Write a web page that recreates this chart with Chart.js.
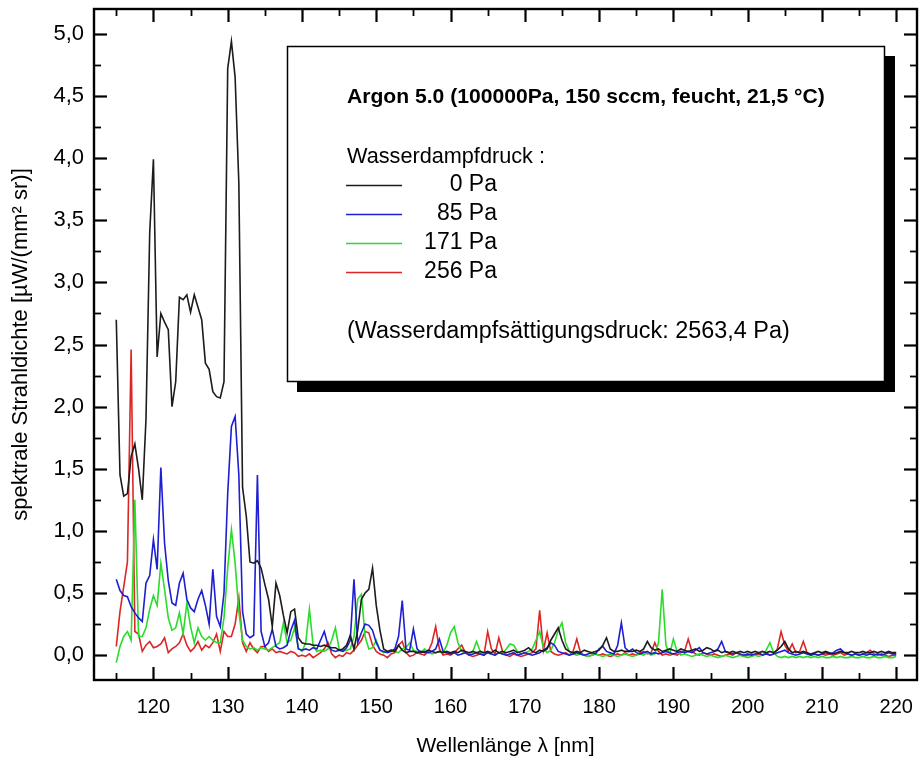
<!DOCTYPE html>
<html><head><meta charset="utf-8">
<script src="https://cdn.jsdelivr.net/npm/chart.js@4.4.1/dist/chart.umd.min.js"></script>
<style>html,body{margin:0;padding:0;background:#fff}#wrap{width:922px;height:767px}</style>
</head><body><div id="wrap"><canvas id="c" width="922" height="767"></canvas></div>
<script>
// wavelength grid: 115.0 nm to 220.0 nm in 0.5 nm steps
const WL_START = 115, WL_STEP = 0.5;

const black0Pa = [
 2.70,1.45,1.28,1.30,1.60,1.70,1.50,1.25,1.90,3.40,
 3.99,2.40,2.75,2.68,2.62,2.00,2.20,2.88,2.86,2.90,
 2.76,2.90,2.80,2.70,2.35,2.30,2.12,2.08,2.07,2.20,
 4.72,4.94,4.65,3.80,1.35,1.12,0.75,0.74,0.76,0.70,
 0.57,0.45,0.23,0.58,0.48,0.32,0.18,0.35,0.37,0.14,
 0.10,0.09,0.09,0.08,0.08,0.07,0.08,0.07,0.06,0.06,
 0.04,0.05,0.08,0.16,0.05,0.20,0.45,0.50,0.53,0.70,
 0.40,0.20,0.05,0.03,0.04,0.03,0.08,0.04,0.02,0.03,
 0.03,0.02,0.03,0.02,0.04,0.03,0.02,0.03,0.02,0.03,
 0.02,0.03,0.02,0.04,0.03,0.02,0.03,0.02,0.03,0.02,
 0.03,0.02,0.04,0.02,0.03,0.02,0.03,0.04,0.02,0.03,
 0.04,0.06,0.03,0.02,0.04,0.03,0.05,0.12,0.17,0.22,
 0.12,0.05,0.03,0.02,0.03,0.02,0.04,0.03,0.02,0.03,
 0.04,0.08,0.14,0.05,0.03,0.03,0.04,0.03,0.03,0.03,
 0.04,0.03,0.05,0.11,0.06,0.04,0.05,0.03,0.04,0.05,
 0.04,0.03,0.05,0.04,0.03,0.04,0.05,0.03,0.04,0.06,
 0.05,0.03,0.04,0.02,0.03,0.02,0.03,0.02,0.03,0.02,
 0.03,0.02,0.03,0.02,0.03,0.02,0.03,0.02,0.04,0.07,
 0.11,0.05,0.02,0.03,0.02,0.03,0.02,0.01,0.02,0.03,
 0.02,0.03,0.02,0.01,0.02,0.03,0.02,0.02,0.03,0.02,
 0.02,0.03,0.02,0.02,0.03,0.02,0.03,0.02,0.03,0.02,
 0.02
];

const blue85Pa = [
 0.61,0.52,0.48,0.47,0.39,0.34,0.30,0.27,0.58,0.64,
 0.93,0.69,1.51,0.90,0.60,0.42,0.40,0.58,0.66,0.45,
 0.38,0.35,0.45,0.52,0.40,0.25,0.69,0.31,0.23,0.50,
 1.30,1.84,1.92,1.45,0.35,0.17,0.14,0.16,1.45,0.19,
 0.07,0.10,0.21,0.07,0.05,0.06,0.08,0.20,0.28,0.05,
 0.04,0.05,0.04,0.06,0.05,0.12,0.19,0.08,0.04,0.03,
 0.04,0.03,0.06,0.12,0.61,0.10,0.18,0.25,0.24,0.20,
 0.10,0.04,0.03,0.02,0.03,0.05,0.15,0.44,0.05,0.04,
 0.21,0.05,0.02,0.03,0.02,0.03,0.05,0.13,0.03,0.02,
 0.01,0.02,0.00,0.01,0.02,0.00,0.01,0.02,0.01,0.00,
 0.02,0.01,0.00,0.02,0.01,0.00,0.01,0.02,0.00,0.01,
 0.02,0.01,0.00,0.01,0.02,0.04,0.06,0.10,0.08,0.03,
 0.02,0.01,0.00,0.01,0.02,0.01,0.00,0.01,0.02,0.01,
 0.05,0.07,0.03,0.02,0.01,0.08,0.26,0.06,0.03,0.05,
 0.02,0.01,0.02,0.03,0.01,0.02,0.01,0.02,0.03,0.02,
 0.01,0.02,0.03,0.02,0.03,0.02,0.04,0.06,0.02,0.01,
 0.02,0.03,0.05,0.11,0.03,0.02,0.01,0.02,0.01,0.00,
 0.01,0.00,0.01,0.02,0.00,0.01,0.00,0.01,0.02,0.03,
 0.04,0.02,0.01,0.00,0.01,0.02,0.01,0.00,0.01,0.00,
 0.01,0.02,0.01,0.02,0.04,0.05,0.02,0.01,0.00,0.01,
 0.00,0.01,0.00,0.01,0.00,0.01,0.00,0.01,0.02,0.01,
 0.01
];

const green171Pa = [
 -0.06,0.07,0.15,0.19,0.12,1.25,0.15,0.15,0.22,0.37,
 0.48,0.40,0.74,0.53,0.30,0.20,0.22,0.34,0.17,0.42,
 0.23,0.10,0.22,0.15,0.12,0.15,0.12,0.10,0.10,0.30,
 0.70,1.01,0.74,0.35,0.12,0.07,0.05,0.06,0.04,0.06,
 0.05,0.04,0.06,0.08,0.10,0.26,0.10,0.12,0.22,0.06,
 0.03,0.10,0.37,0.08,0.03,0.04,0.03,0.05,0.12,0.22,
 0.05,0.03,0.04,0.05,0.15,0.45,0.49,0.15,0.05,0.06,
 0.12,0.04,0.02,0.03,0.04,0.03,0.02,0.05,0.06,0.10,
 0.04,0.03,0.02,0.05,0.02,0.01,0.02,0.03,0.02,0.08,
 0.18,0.23,0.10,0.03,0.02,0.01,0.03,0.11,0.03,0.01,
 0.02,0.01,0.00,0.02,0.01,0.05,0.09,0.08,0.03,0.01,
 0.02,0.03,0.05,0.12,0.19,0.06,0.02,0.04,0.10,0.20,
 0.26,0.10,0.03,0.01,0.00,0.01,0.00,-0.01,0.00,0.01,
 0.00,-0.01,0.00,0.01,0.00,-0.01,0.00,0.01,0.00,-0.01,
 0.00,0.01,0.00,0.02,0.00,0.01,0.10,0.53,0.08,0.01,
 0.13,0.03,0.00,0.01,0.00,-0.01,0.00,0.01,0.00,-0.01,
 0.00,-0.01,-0.02,-0.01,0.00,-0.01,-0.02,-0.01,0.00,-0.01,
 -0.02,-0.01,0.00,-0.01,0.00,0.04,0.10,0.02,-0.01,-0.02,
 -0.01,-0.02,-0.01,-0.02,-0.01,-0.02,-0.01,-0.02,-0.01,-0.02,
 -0.01,-0.02,-0.02,-0.01,-0.02,-0.01,-0.02,-0.02,-0.01,-0.02,
 -0.02,-0.01,-0.02,-0.02,-0.01,-0.02,-0.02,-0.01,-0.02,-0.02,
 -0.01
];

const red256Pa = [
 0.07,0.35,0.55,0.75,2.46,0.19,0.17,0.03,0.08,0.11,
 0.06,0.07,0.09,0.14,0.02,0.05,0.07,0.10,0.17,0.08,
 0.03,0.06,0.11,0.04,0.08,0.06,0.10,0.17,0.03,0.19,
 0.15,0.15,0.25,0.46,0.10,0.03,0.10,0.05,0.02,0.07,
 0.07,0.03,0.05,0.02,0.03,0.02,0.01,0.03,0.02,-0.01,
 0.00,-0.01,0.01,-0.02,0.00,0.02,0.05,0.10,0.01,-0.02,
 0.00,-0.01,0.02,0.01,0.04,0.08,0.12,0.19,0.18,0.08,
 0.03,0.01,0.00,-0.02,0.01,0.02,0.08,0.11,0.02,-0.01,
 0.00,0.02,0.01,0.00,0.03,0.10,0.23,0.05,0.00,0.01,
 0.00,0.02,0.05,0.08,0.02,0.00,-0.01,0.00,0.01,0.00,
 0.19,0.05,0.01,0.14,0.03,0.00,-0.01,0.01,0.00,-0.01,
 0.00,0.01,0.02,0.05,0.36,0.04,0.18,0.03,0.01,0.00,
 0.01,0.02,0.00,0.03,0.13,0.02,0.00,-0.01,0.00,0.01,
 0.00,0.01,0.00,-0.01,0.00,0.01,0.00,0.02,0.00,0.01,
 0.00,0.02,0.03,0.01,0.02,0.10,0.03,0.00,0.01,0.00,
 0.01,0.00,0.02,0.03,0.13,0.03,0.01,0.00,0.02,0.01,
 0.00,0.01,0.00,-0.01,0.00,0.01,0.00,0.02,0.00,-0.01,
 0.00,0.01,0.00,0.01,0.00,0.02,0.00,0.01,0.05,0.19,
 0.08,0.03,0.09,0.02,0.03,0.11,0.02,0.00,0.01,0.00,
 0.01,0.00,0.01,0.00,0.01,0.02,0.00,0.01,0.00,0.01,
 0.00,0.01,0.02,0.04,0.01,0.00,0.01,0.00,-0.01,0.00,
 0.00
];

const seriesLabels = ['0 Pa', '85 Pa', '171 Pa', '256 Pa'];
const xMajorTicks = [120,130,140,150,160,170,180,190,200,210,220];
const xMinorTicks = [115,125,135,145,155,165,175,185,195,205,215];
const yMajorTicks = [0,0.5,1,1.5,2,2.5,3,3.5,4,4.5,5];
const yMinorTicks = [0.25,0.75,1.25,1.75,2.25,2.75,3.25,3.75,4.25,4.75];

const titleText = 'Argon 5.0 (100000Pa, 150 sccm, feucht, 21,5 °C)';
const legendHeading = 'Wasserdampfdruck :';
const footnoteText = '(Wasserdampfsättigungsdruck: 2563,4 Pa)';

const FONT = "'Liberation Sans', Arial, sans-serif";

function toPoints(values) {
  return values.map((v, i) => ({ x: WL_START + i * WL_STEP, y: v }));
}

const colors = ['#1c1c1c', '#1e1ed2', '#2bdc2b', '#dc2626'];
const seriesValues = [black0Pa, blue85Pa, green171Pa, red256Pa];

function fitFont(ctx, text, weight, targetWidth, baseSize) {
  ctx.font = weight + baseSize + 'px ' + FONT;
  const w = ctx.measureText(text).width;
  const size = baseSize * targetWidth / w;
  ctx.font = weight + size.toFixed(2) + 'px ' + FONT;
}

const framePlugin = {
  id: 'frameAndLegend',
  afterDatasetsDraw(chart) {
    const { ctx, chartArea: a, scales: { x, y } } = chart;
    ctx.save();
    ctx.strokeStyle = '#000';
    const drawX = (vals, len) => vals.forEach(v => {
      const px = Math.round(x.getPixelForValue(v)) + 0.5;
      ctx.beginPath(); ctx.moveTo(px, a.bottom); ctx.lineTo(px, a.bottom - len); ctx.stroke();
      ctx.beginPath(); ctx.moveTo(px, a.top); ctx.lineTo(px, a.top + len); ctx.stroke();
    });
    const drawY = (vals, len) => vals.forEach(v => {
      const py = Math.round(y.getPixelForValue(v)) + 0.5;
      ctx.beginPath(); ctx.moveTo(a.left, py); ctx.lineTo(a.left + len, py); ctx.stroke();
      ctx.beginPath(); ctx.moveTo(a.right, py); ctx.lineTo(a.right - len, py); ctx.stroke();
    });
    ctx.lineWidth = 2.2;
    drawX(xMajorTicks, 13); drawY(yMajorTicks, 13);
    ctx.lineWidth = 1.8;
    drawX(xMinorTicks, 7); drawY(yMinorTicks, 7);
    ctx.lineWidth = 2.4;
    ctx.strokeRect(a.left, a.top, a.right - a.left, a.bottom - a.top);

    // legend box with drop shadow
    const bx = 287, by = 46, bw = 598, bh = 336;
    ctx.fillStyle = '#000';
    ctx.fillRect(bx + 10, by + 10, bw, bh);
    ctx.fillStyle = '#fff';
    ctx.fillRect(bx, by, bw, bh);
    ctx.lineWidth = 1.5;
    ctx.strokeRect(bx + 0.5, by + 0.5, bw - 1, bh - 1);

    ctx.fillStyle = '#000';
    ctx.textBaseline = 'middle';
    ctx.textAlign = 'left';
    fitFont(ctx, titleText, 'bold ', 478, 21);
    ctx.fillText(titleText, 347, 97);
    fitFont(ctx, legendHeading, '', 198, 21);
    ctx.fillText(legendHeading, 347, 157);
    const rowY = [185, 214, 243, 272];
    ctx.font = '23px ' + FONT;
    chart.data.datasets.forEach((ds, i) => {
      ctx.strokeStyle = ds.borderColor;
      ctx.lineWidth = 1.6;
      ctx.beginPath(); ctx.moveTo(346, rowY[i] + 0.5); ctx.lineTo(402, rowY[i] + 0.5); ctx.stroke();
      ctx.fillStyle = '#000';
      ctx.textAlign = 'right';
      ctx.fillText(ds.label, 497, rowY[i]);
    });
    ctx.textAlign = 'left';
    fitFont(ctx, footnoteText, '', 443, 21);
    ctx.fillText(footnoteText, 347, 332);
    ctx.restore();
  }
};

new Chart(document.getElementById('c'), {
  type: 'line',
  data: {
    datasets: seriesValues.map((vals, i) => ({
      label: seriesLabels[i],
      data: toPoints(vals),
      borderColor: colors[i],
      backgroundColor: colors[i],
      borderWidth: 1.6,
      pointRadius: 0,
      tension: 0,
      fill: false
    }))
  },
  options: {
    responsive: false,
    animation: false,
    devicePixelRatio: 1,
    layout: { padding: { top: 9, right: 5, left: 0, bottom: 0 } },
    plugins: { legend: { display: false }, tooltip: { enabled: false } },
    scales: {
      x: {
        type: 'linear', min: 112, max: 222.8,
        grid: { display: false, drawTicks: false },
        border: { display: false },
        afterBuildTicks: s => { s.ticks = xMajorTicks.map(v => ({ value: v })); },
        afterFit: s => { s.height = 87; s.paddingLeft = 0; s.paddingRight = 0; },
        ticks: { color: '#000', padding: 15, maxRotation: 0, autoSkip: false,
                 font: { family: FONT, size: 20 }, callback: v => String(v) },
        title: { display: true, text: 'Wellenlänge λ [nm]', color: '#000',
                 font: { family: FONT, size: 21 }, padding: { top: 0, bottom: 8 } }
      },
      y: {
        type: 'linear', min: -0.2, max: 5.2,
        grid: { display: false, drawTicks: false },
        border: { display: false },
        afterBuildTicks: s => { s.ticks = yMajorTicks.map(v => ({ value: v })); },
        afterFit: s => { s.width = 94; s.paddingTop = 0; s.paddingBottom = 0; },
        ticks: { color: '#000', padding: 10, autoSkip: false,
                 font: { family: FONT, size: 22 },
                 callback: v => Number(v).toFixed(1).replace('.', ',') },
        title: { display: true, text: 'spektrale Strahldichte [µW/(mm² sr)]', color: '#000',
                 font: { family: FONT, size: 22 }, padding: { top: 8, bottom: 0 } }
      }
    }
  },
  plugins: [framePlugin]
});
</script>
</body></html>
